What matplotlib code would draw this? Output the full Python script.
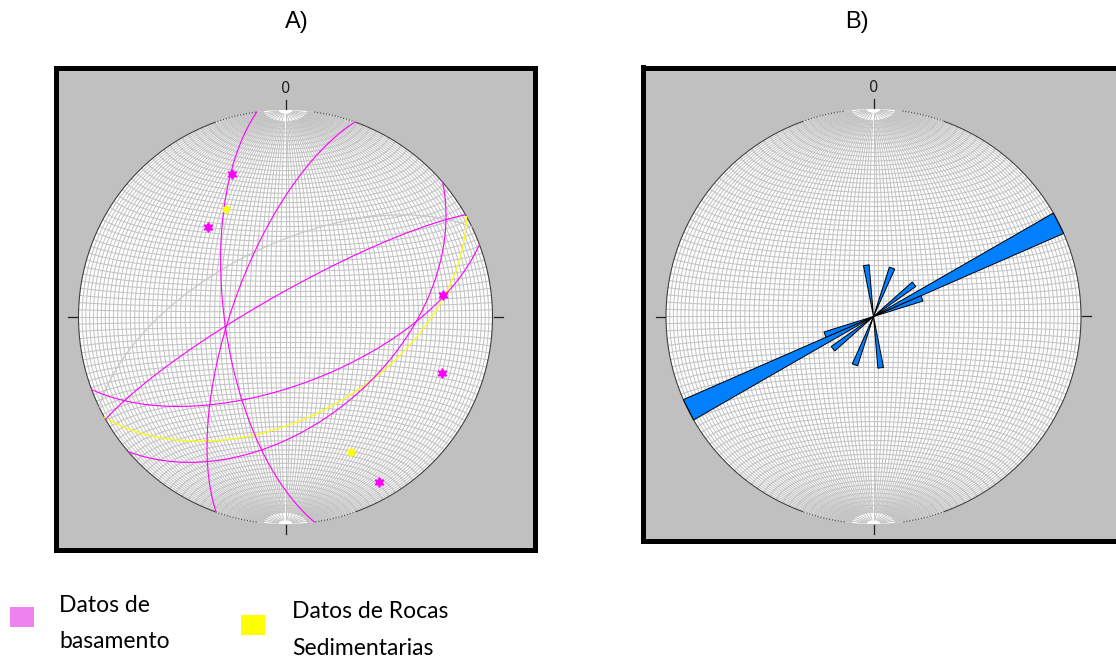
import numpy as np
import matplotlib.pyplot as plt
from matplotlib.collections import LineCollection
from matplotlib.patches import Polygon, Rectangle

W, H = 1116, 659

# basement planes, right-hand-rule strike / dip (deg)
bas_strike = [172, 199.6, 49.4, 69.5, 240.4]
bas_dip = [66, 69, 48, 63, 81]
# sedimentary plane
sed_strike = [61]
sed_dip = [50]
# grey plane
grey_strike = [244.2]
grey_dip = [61.5]

# rose diagram (panel B): petal azimuths and counts
rose_dir = [352, 21, 51.5, 63.25, 69.5]
rose_count = [1, 1, 1, 4, 1]
rose_width = 6.3

PINK = '#ff00ff'
YELLOW = '#ffff00'
BLUE = '#0080ff'


def px(x, y):
    return x / W, 1 - y / H


def proj(v):
    # equal-area (Schmidt), lower hemisphere, unit radius
    x, y, z = v
    d = np.sqrt(1 - z)
    return x / d, y / d


def plane_xy(strike, dip, n=241):
    s = np.radians(strike)
    d = np.radians(dip)
    dd = s + np.pi / 2
    lam = np.linspace(0, np.pi, n)
    sv = np.array([np.sin(s), np.cos(s), 0.0])
    dv = np.array([np.sin(dd) * np.cos(d), np.cos(dd) * np.cos(d), -np.sin(d)])
    v = np.outer(np.cos(lam), sv) + np.outer(np.sin(lam), dv)
    return proj(v.T)


def pole_xy(strike, dip):
    t = np.radians(np.array(strike) - 90)
    p = np.radians(90 - np.array(dip))
    return proj((np.sin(t) * np.cos(p), np.cos(t) * np.cos(p), -np.sin(p)))


def draw_net(ax):
    segs = []
    # meridians (great circles through N and S)
    for dip in range(2, 91, 2):
        lim = 2 if dip % 10 == 0 else 6
        lam = np.radians(np.linspace(lim, 180 - lim, 160))
        for sgn in (1, -1):
            if dip == 90 and sgn == -1:
                continue
            d = np.radians(dip)
            v = (sgn * np.sin(lam) * np.cos(d), np.cos(lam), -np.sin(lam) * np.sin(d))
            x, y = proj(v)
            segs.append(np.column_stack([x, y]))
    # parallels (small circles about the N-S axis)
    for lat in range(-80, 81, 2):
        la = np.radians(lat)
        psi = np.linspace(0, np.pi, 160)
        v = (np.cos(la) * np.cos(psi), np.full_like(psi, np.sin(la)), -np.cos(la) * np.sin(psi))
        x, y = proj(v)
        segs.append(np.column_stack([x, y]))
    ax.add_collection(LineCollection(segs, colors='#c4c4c4', linewidths=0.75, zorder=1))
    ax.add_patch(plt.Circle((0, 0), 1, facecolor='white', edgecolor='none', zorder=0))

    # primitive: solid away from the poles, dotted near them
    for a0, a1, ls in [(20, 160, '-'), (200, 340, '-'),
                       (8, 20, ':'), (160, 172, ':'), (188, 200, ':'), (340, 352, ':')]:
        a = np.radians(np.linspace(a0, a1, 100))
        ax.plot(np.sin(a), np.cos(a), color='#404040', lw=0.8, ls=ls, zorder=2)

    # cardinal ticks and north label
    for a in (0, 90, 180, 270):
        r = np.radians(a)
        ax.plot([1.005 * np.sin(r), 1.05 * np.sin(r)], [1.005 * np.cos(r), 1.05 * np.cos(r)],
                color='#202020', lw=0.9, zorder=2)
    ax.text(0, 1.105, '0', ha='center', va='center', fontsize=10.5, color='#202020',
            family='DejaVu Sans')


def make_axes(box, center, R):
    x0, y0, x1, y1 = box
    cx, cy = center
    ax = fig.add_axes([x0 / W, 1 - y1 / H, (x1 - x0) / W, (y1 - y0) / H])
    ax.set_xlim((x0 - cx) / R, (x1 - cx) / R)
    ax.set_ylim((cy - y1) / R, (cy - y0) / R)
    ax.set_facecolor('#c0c0c0')
    ax.set_xticks([])
    ax.set_yticks([])
    for sp in ax.spines.values():
        sp.set_linewidth(3.6)
        sp.set_color('black')
    return ax


fig = plt.figure(figsize=(W / 100, H / 100), dpi=100)

# ---- panel A: great circles and poles
axA = make_axes((55.5, 67.5, 534.5, 549.5), (285.5, 317), 207)
draw_net(axA)
x, y = plane_xy(grey_strike[0], grey_dip[0])
axA.plot(x, y, color='#c8c8c8', lw=0.9, zorder=3)
for s, d in zip(sed_strike, sed_dip):
    x, y = plane_xy(s, d)
    axA.plot(x, y, color=YELLOW, lw=0.9, zorder=3)
for s, d in zip(bas_strike, bas_dip):
    x, y = plane_xy(s, d)
    axA.plot(x, y, color=PINK, lw=0.8, zorder=4)
px_, py_ = pole_xy(bas_strike, bas_dip)
axA.plot(px_, py_, ls='none', marker=(6, 1, 0), ms=7, color=PINK, zorder=5)
px_, py_ = pole_xy(sed_strike + grey_strike, sed_dip + grey_dip)
axA.plot(px_, py_, ls='none', marker=(6, 1, 0), ms=6, color=YELLOW, zorder=5)

# ---- panel B: rose diagram of strikes
axB = make_axes((642.5, 67.5, 1130, 540.5), (873.5, 316.5), 207.5)
draw_net(axB)
cmax = max(rose_count)
for a, c in zip(rose_dir, rose_count):
    r = c / cmax
    for aa in (a, a + 180):
        t0 = np.radians(aa - rose_width / 2)
        t1 = np.radians(aa + rose_width / 2)
        pts = [(0, 0), (r * np.sin(t0), r * np.cos(t0)), (r * np.sin(t1), r * np.cos(t1))]
        axB.add_patch(Polygon(pts, closed=True, facecolor=BLUE, edgecolor='black',
                              lw=0.7, zorder=4))

# ---- titles
fig.text(*px(297, 22), 'A)', ha='center', va='center', fontsize=17, family='Liberation Sans')
fig.text(*px(857, 22), 'B)', ha='center', va='center', fontsize=17, family='Liberation Sans')

# ---- legend
fig.add_artist(Rectangle(px(9.5, 627), 24 / W, 20 / H, transform=fig.transFigure,
                         facecolor='#ee82ee', edgecolor='none'))
fig.add_artist(Rectangle(px(241, 635), 24 / W, 20 / H, transform=fig.transFigure,
                         facecolor=YELLOW, edgecolor='none'))
lkw = dict(ha='left', va='baseline', fontsize=16.5, family='Lato', color='black')
fig.text(*px(59, 612), 'Datos de', **lkw)
fig.text(*px(59, 648), 'basamento', **lkw)
fig.text(*px(292, 618), 'Datos de Rocas', **lkw)
fig.text(*px(292, 655), 'Sedimentarias', **lkw)

fig.savefig('out.png', dpi=100, facecolor='white')
